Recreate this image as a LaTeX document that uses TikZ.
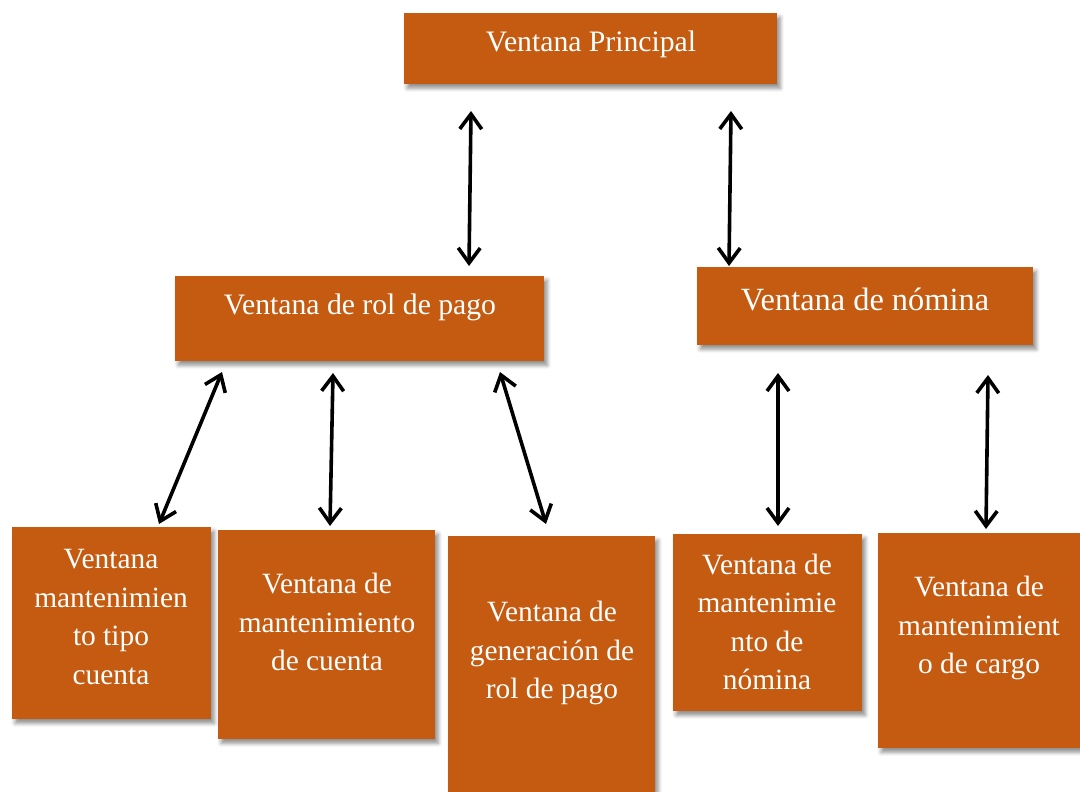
\documentclass[tikz,border=0pt]{standalone}
\usepackage{fontspec}
\setmainfont{Liberation Serif}
\usetikzlibrary{arrows.meta,shadows.blur}
\definecolor{boxorange}{HTML}{C55A11}
\tikzset{
  box/.style={fill=boxorange, draw=none, inner sep=0pt, anchor=north west,
    blur shadow={shadow xshift=3pt, shadow yshift=-4pt, shadow blur radius=4pt, shadow opacity=45}},
  bigtxt/.style={text=white, align=center, inner sep=0pt, font=\fontsize{29.7}{36}\selectfont},
  nomtxtstyle/.style={text=white, align=center, inner sep=0pt, font=\fontsize{32.4}{38}\selectfont},
  smalltxt/.style={text=white, align=center, inner sep=0pt, font=\fontsize{29.4}{38.5}\selectfont},
  arr/.style={line width=3.6pt, line cap=round, {Straight Barb[length=15pt,width=22pt,line width=3.6pt]}-{Straight Barb[length=15pt,width=22pt,line width=3.6pt]}}
}
\begin{document}
\begin{tikzpicture}[x=1pt,y=-1pt]
\useasboundingbox (0,0) rectangle (1080,792);
% boxes
\node[box, minimum width=373pt, minimum height=71pt] (top) at (404,13) {};
\node[box, minimum width=369pt, minimum height=85pt] (rol) at (175,276) {};
\node[box, minimum width=336pt, minimum height=78pt] (nom) at (697,267) {};
\node[box, minimum width=199pt, minimum height=192pt] (b1) at (12,527) {};
\node[box, minimum width=217pt, minimum height=209pt] (b2) at (218,530) {};
\node[box, minimum width=207pt, minimum height=270pt] (b3) at (448,536) {};
\node[box, minimum width=189pt, minimum height=177pt] (b4) at (673,534) {};
\node[box, minimum width=210pt, minimum height=215pt] (b5) at (878,533) {};
% texts
\node[bigtxt] (toptxt) at (591,44) {Ventana Principal};
\node[bigtxt] (roltxt) at (360,307) {Ventana de rol de pago};
\node[nomtxtstyle] (nomtxt) at (865,299) {Ventana de nómina};
\node[smalltxt] (b1txt) at (111,617) {Ventana\\mantenimien\\to tipo\\cuenta};
\node[smalltxt] (b2txt) at (327,622) {Ventana de\\mantenimiento\\de cuenta};
\node[smalltxt] (b3txt) at (552,653) {Ventana de\\generación de\\rol de pago};
\node[smalltxt] (b4txt) at (767,622) {Ventana de\\mantenimie\\nto de\\nómina};
\node[smalltxt] (b5txt) at (979,628) {Ventana de\\mantenimient\\o de cargo};
% arrow end points
\coordinate (a1s) at (471,111); \coordinate (a1e) at (469,266);
\coordinate (a2s) at (731,111); \coordinate (a2e) at (729,266);
\coordinate (a3s) at (222,372); \coordinate (a3e) at (159,524);
\coordinate (a4s) at (333,373); \coordinate (a4e) at (330,526);
\coordinate (a5s) at (500,372); \coordinate (a5e) at (546,524);
\coordinate (a6s) at (778,373); \coordinate (a6e) at (778,526);
\coordinate (a7s) at (988,375); \coordinate (a7e) at (986,529);
\draw[arr] (a1s) -- (a1e);
\draw[arr] (a2s) -- (a2e);
\draw[arr] (a3s) -- (a3e);
\draw[arr] (a4s) -- (a4e);
\draw[arr] (a5s) -- (a5e);
\draw[arr] (a6s) -- (a6e);
\draw[arr] (a7s) -- (a7e);
\end{tikzpicture}
\end{document}
